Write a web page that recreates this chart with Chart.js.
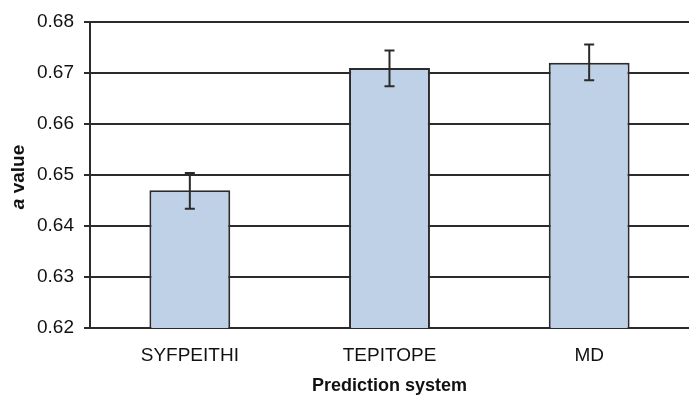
<!DOCTYPE html>
<html>
<head>
<meta charset="utf-8">
<script src="https://cdn.jsdelivr.net/npm/chart.js@4.4.0/dist/chart.umd.min.js"></script>
<style>
  html, body { margin: 0; padding: 0; background: #fff; }
  #wrap { position: relative; width: 689px; height: 401px; }
</style>
</head>
<body>
<div id="wrap"><canvas id="chart"></canvas></div>
<script>
// data
const categories = ['SYFPEITHI', 'TEPITOPE', 'MD'];
const aValues = [0.647, 0.671, 0.672];
const errLow = [0.6434, 0.6674, 0.6686];
const errHigh = [0.6504, 0.6744, 0.6756];
const yTicks = [0.62, 0.63, 0.64, 0.65, 0.66, 0.67, 0.68];

const FONT = '"Liberation Sans", Arial, sans-serif';
const INK = '#2b2b2b';

// whiskers on top of the bars
const errorBars = {
  id: 'errorBars',
  afterDatasetsDraw(chart) {
    const { ctx, scales: { x, y } } = chart;
    ctx.save();
    ctx.strokeStyle = INK;
    ctx.lineWidth = 2;
    categories.forEach((c, i) => {
      const px = x.getPixelForValue(i);
      const top = y.getPixelForValue(errHigh[i]);
      const bot = y.getPixelForValue(errLow[i]);
      ctx.beginPath();
      ctx.moveTo(px, top); ctx.lineTo(px, bot);
      ctx.moveTo(px - 5, top); ctx.lineTo(px + 5, top);
      ctx.moveTo(px - 5, bot); ctx.lineTo(px + 5, bot);
      ctx.stroke();
    });
    ctx.restore();
  }
};

// y title with italic "a"
const yTitle = {
  id: 'yTitle',
  afterDraw(chart) {
    const { ctx } = chart;
    ctx.save();
    ctx.translate(19, 177);
    ctx.rotate(-Math.PI / 2);
    ctx.fillStyle = '#111';
    ctx.textBaseline = 'middle';
    const f1 = 'italic bold 19px ' + FONT;
    const f2 = 'bold 19px ' + FONT;
    ctx.font = f1;
    const w1 = ctx.measureText('a').width;
    ctx.font = f2;
    const w2 = ctx.measureText(' value').width;
    const sx = -(w1 + w2) / 2;
    ctx.textAlign = 'left';
    ctx.font = f1;
    ctx.fillText('a', sx, 0);
    ctx.font = f2;
    ctx.fillText(' value', sx + w1, 0);
    ctx.restore();
  }
};

new Chart(document.getElementById('chart'), {
  type: 'bar',
  data: {
    labels: categories,
    datasets: [{
      data: aValues,
      backgroundColor: '#bfd1e7',
      borderColor: INK,
      borderWidth: 2,
      borderSkipped: false,
      categoryPercentage: 0.405,
      barPercentage: 1.0
    }]
  },
  options: {
    responsive: true,
    maintainAspectRatio: false,
    animation: false,
    layout: { padding: { top: 22, right: 0, left: 0, bottom: 0 } },
    plugins: { legend: { display: false }, tooltip: { enabled: false } },
    scales: {
      x: {
        grid: { display: false, drawTicks: false },
        border: { color: INK, width: 2 },
        ticks: { color: '#111', font: { family: FONT, size: 19 }, padding: 16 },
        title: {
          display: true, text: 'Prediction system', color: '#111',
          font: { family: FONT, size: 18, weight: 'bold' }, padding: { top: 10 }
        },
        afterFit(scale) { scale.height = 73; }
      },
      y: {
        min: 0.62, max: 0.68,
        afterBuildTicks(scale) { scale.ticks = yTicks.map(v => ({ value: v })); },
        grid: { color: INK, lineWidth: 2, tickLength: 6, tickColor: INK },
        border: { color: INK, width: 2 },
        ticks: {
          color: '#111', font: { family: FONT, size: 19 }, padding: 10,
          callback: v => v.toFixed(2)
        },
        afterFit(scale) { scale.width = 90; }
      }
    }
  },
  plugins: [errorBars, yTitle]
});
</script>
</body>
</html>
